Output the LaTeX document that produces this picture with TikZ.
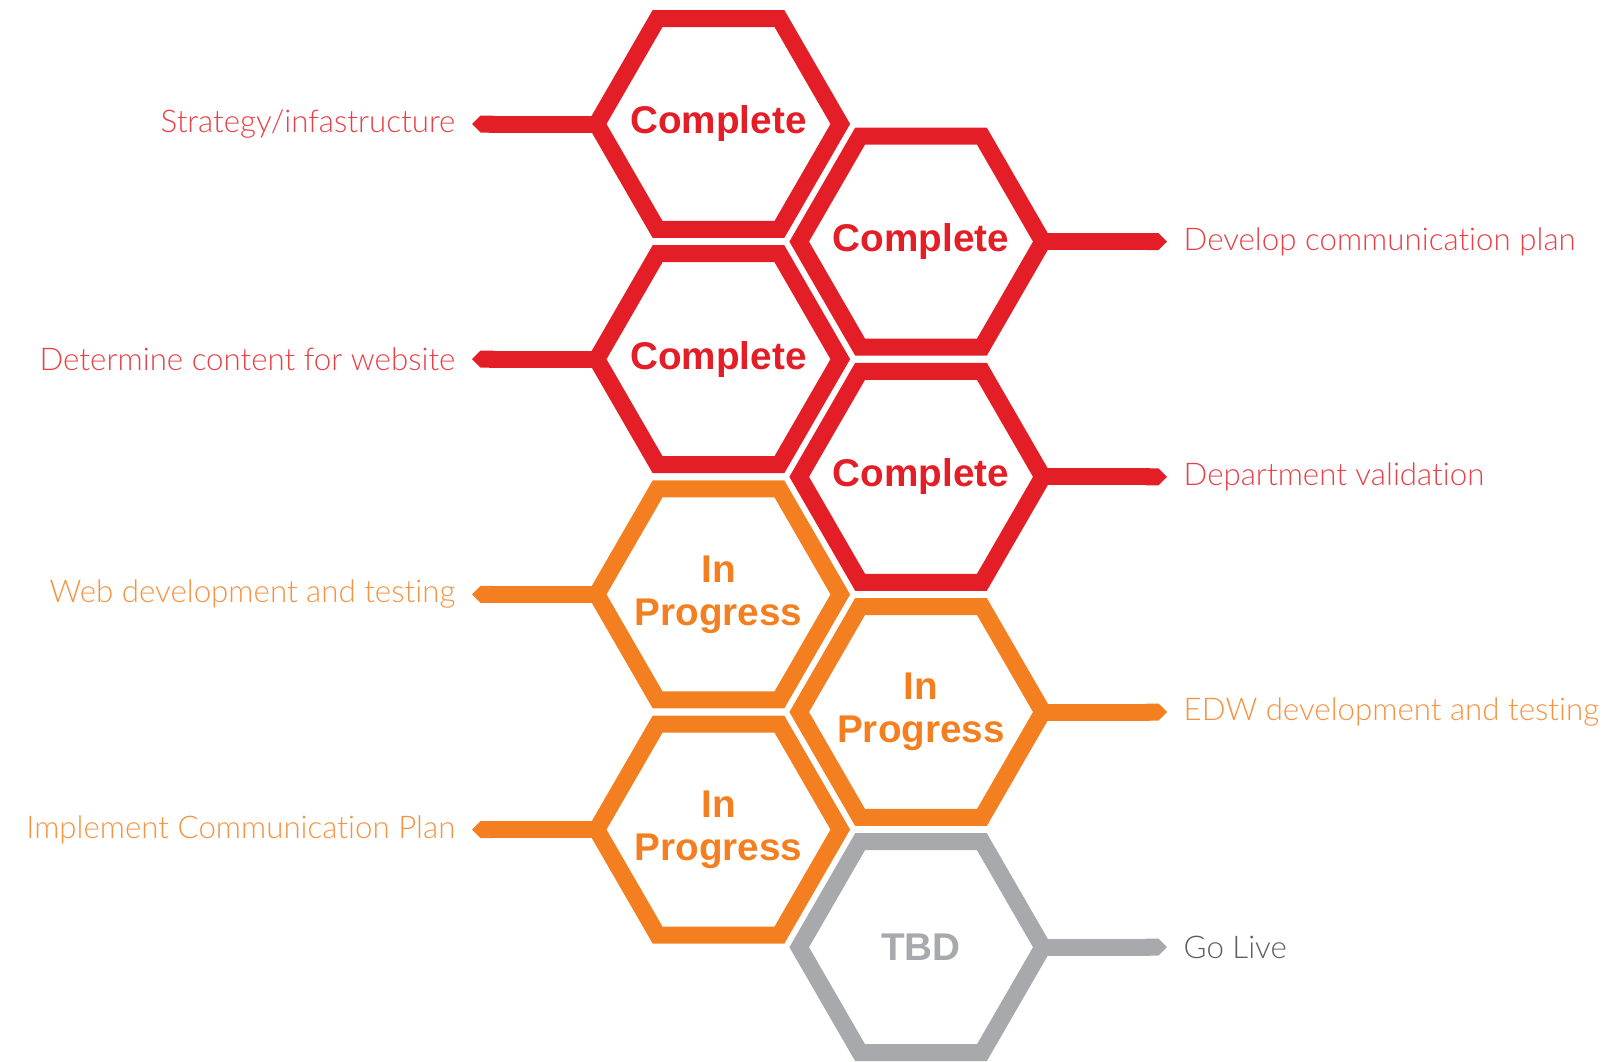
\documentclass[tikz,border=0pt]{standalone}
\usepackage{fontspec}
\setmainfont{Liberation Sans}
\newfontfamily\thinfont{Lato Light}[Ligatures=NoCommon]
\usetikzlibrary{shapes.geometric,arrows.meta}
\definecolor{hexred}{HTML}{E31E26}
\definecolor{hexorange}{HTML}{F47F20}
\definecolor{hexgray}{HTML}{A7A9AC}
\definecolor{golive}{HTML}{414042}
\begin{document}
\begin{tikzpicture}[
    hexa/.style={regular polygon, regular polygon sides=6, minimum size=2.436cm,
        inner sep=0pt, outer sep=0pt, line width=0.17cm, draw=#1},
    hexlbl/.style={inner sep=0pt, text=#1, align=center,
        font=\bfseries\fontsize{11}{12.2}\selectfont},
    conn/.style={line width=0.17cm, draw=#1, -{Triangle Cap}, shorten >=0.16cm},
    lbl/.style={inner sep=0pt, text=#1!85, font=\thinfont\fontsize{8.9}{11}\selectfont}
]
    \useasboundingbox (0,0) rectangle (16.10,10.61);

    \node[hexa=hexred, label={[hexlbl=hexred]center:Complete}] (h1) at (7.185,9.37) {};
    \node[hexa=hexred, label={[hexlbl=hexred]center:Complete}] (h2) at (9.21,8.194) {};
    \node[hexa=hexred, label={[hexlbl=hexred]center:Complete}] (h3) at (7.185,7.018) {};
    \node[hexa=hexred, label={[hexlbl=hexred]center:Complete}] (h4) at (9.21,5.842) {};
    \node[hexa=hexorange, label={[hexlbl=hexorange]center:{In\\Progress}}] (h5) at (7.185,4.666) {};
    \node[hexa=hexorange, label={[hexlbl=hexorange]center:{In\\Progress}}] (h6) at (9.21,3.49) {};
    \node[hexa=hexorange, label={[hexlbl=hexorange]center:{In\\Progress}}] (h7) at (7.185,2.314) {};
    \node[hexa=hexgray, label={[hexlbl=hexgray]center:TBD}] (h8) at (9.21,1.138) {};

    \node[lbl=hexred, anchor=east] (l1) at (4.56,9.37) {Strategy/infastructure};
    \node[lbl=hexred, anchor=west] (l2) at (11.83,8.194) {Develop communication plan};
    \node[lbl=hexred, anchor=east] (l3) at (4.56,7.018) {Determine content for website};
    \node[lbl=hexred, anchor=west] (l4) at (11.83,5.842) {Department validation};
    \node[lbl=hexorange, anchor=east] (l5) at (4.56,4.666) {Web development and testing};
    \node[lbl=hexorange, anchor=west] (l6) at (11.83,3.49) {EDW development and testing};
    \node[lbl=hexorange, anchor=east] (l7) at (4.56,2.314) {Implement Communication Plan};
    \node[lbl=golive, anchor=west] (l8) at (11.83,1.138) {Go Live};

    \draw[conn=hexred] (h1.west) -- (h1.west -| l1.east);
    \draw[conn=hexred] (h2.east) -- (h2.east -| l2.west);
    \draw[conn=hexred] (h3.west) -- (h3.west -| l3.east);
    \draw[conn=hexred] (h4.east) -- (h4.east -| l4.west);
    \draw[conn=hexorange] (h5.west) -- (h5.west -| l5.east);
    \draw[conn=hexorange] (h6.east) -- (h6.east -| l6.west);
    \draw[conn=hexorange] (h7.west) -- (h7.west -| l7.east);
    \draw[conn=hexgray] (h8.east) -- (h8.east -| l8.west);
\end{tikzpicture}
\end{document}
